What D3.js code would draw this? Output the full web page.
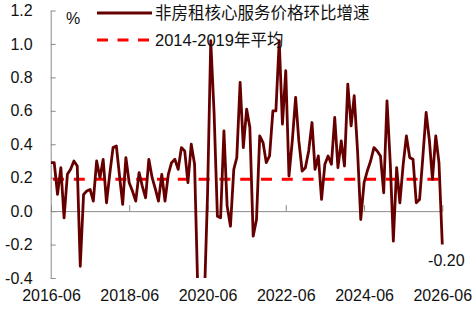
<!DOCTYPE html>
<html>
<head>
<meta charset="utf-8">
<script src="https://cdn.jsdelivr.net/npm/d3@7"></script>
<style>
  body { margin: 0; background: #fff; }
  svg { display: block; }
  text { font-family: "Liberation Sans", Arial, "Noto Sans CJK SC", sans-serif; fill: #111; }
</style>
</head>
<body>
<script>
// monthly series, 2016-06 .. 2026-06
var startMonth = new Date(2016, 5, 1);
var values = [
  0.29, 0.29, 0.10, 0.26, -0.04, 0.22, 0.25, 0.30, 0.27, -0.33,
  0.10, 0.12, 0.13, 0.06, 0.30, 0.20, 0.31, 0.05, 0.22, 0.38,
  0.39, 0.22, 0.04, 0.32, 0.17, 0.12, 0.06, 0.23, 0.15, 0.08,
  0.31, 0.20, 0.13, 0.06, 0.22, 0.06, 0.22, 0.29, 0.31, 0.25,
  0.38, 0.36, 0.17, 0.40, 0.28, -0.45, -0.90, -0.56, 0.10, 1.02,
  0.59, -0.03, -0.04, 0.48, 0.03, -0.09, 0.25, 0.32, 0.77, 0.38,
  0.61, 0.50, -0.15, -0.05, 0.45, 0.41, 0.29, 0.33, 0.60, 0.60,
  1.02, 0.52, 0.84, 0.21, 0.42, 0.68, 0.42, 0.24, 0.26, 0.36,
  0.53, 0.25, 0.33, 0.07, 0.28, 0.33, 0.28, 0.56, 0.26, 0.42,
  0.27, 0.76, 0.51, 0.69, 0.36, -0.05, 0.17, 0.24, 0.30, 0.38,
  0.36, 0.33, 0.11, 0.66, 0.28, -0.18, 0.26, 0.05, 0.28, 0.45,
  0.32, 0.31, 0.05, 0.07, 0.32, 0.59, 0.42, 0.19, 0.45, 0.29,
  -0.20
];
var avg2014_2019 = 0.19;
var seriesNames = ["非房租核心服务价格环比增速", "2014-2019年平均"];
var yTicks = [-0.4, -0.2, 0.0, 0.2, 0.4, 0.6, 0.8, 1.0, 1.2];
var xTickLabels = ["2016-06", "2018-06", "2020-06", "2022-06", "2024-06", "2026-06"];

var months = values.map(function(d, i) { return d3.timeMonth.offset(startMonth, i); });
var data = values.map(function(v, i) { return { date: months[i], value: v }; });
var parseMonth = d3.timeParse("%Y-%m");

var width = 472, height = 313;
var plot = { left: 51, right: 442.3, top: 10.5, bottom: 278 };

var svg = d3.select("body").append("svg")
  .attr("width", width)
  .attr("height", height);

var xScale = d3.scaleTime()
  .domain([months[0], months[months.length - 1]])
  .range([plot.left, plot.right]);

var yScale = d3.scaleLinear()
  .domain([-0.4, 1.2])
  .range([plot.bottom, plot.top]);

svg.append("clipPath").attr("id", "clip")
  .append("rect")
  .attr("x", plot.left - 2).attr("y", plot.top)
  .attr("width", plot.right - plot.left + 10)
  .attr("height", plot.bottom - plot.top);

// y axis
var yAxis = svg.append("g")
  .attr("transform", "translate(" + (plot.left - 0.3) + ",0)")
  .call(d3.axisLeft(yScale)
    .tickValues(yTicks)
    .tickFormat(function(d) { return d.toFixed(1); })
    .tickSizeInner(-5)
    .tickSizeOuter(0)
    .tickPadding(18));
yAxis.selectAll("text").style("font-size", "16px").attr("fill", "#111");

// x axis at zero
var xAxis = svg.append("g")
  .attr("transform", "translate(0," + yScale(0) + ")")
  .call(d3.axisBottom(xScale)
    .tickValues(xTickLabels.map(parseMonth))
    .tickFormat("")
    .tickSizeInner(-6)
    .tickSizeOuter(0));

svg.append("g")
  .attr("transform", "translate(0," + plot.bottom + ")")
  .call(d3.axisBottom(xScale)
    .tickValues(xTickLabels.map(parseMonth))
    .tickFormat(d3.timeFormat("%Y-%m"))
    .tickSize(0)
    .tickPadding(12))
  .call(function(g) { g.select(".domain").remove(); })
  .selectAll("text").style("font-size", "16px").attr("fill", "#111");

svg.selectAll(".domain, .tick line").attr("stroke", "#8a8a8a");

// average line
svg.append("line")
  .attr("x1", xScale(months[0])).attr("x2", xScale(months[months.length - 1]))
  .attr("y1", yScale(avg2014_2019)).attr("y2", yScale(avg2014_2019))
  .attr("stroke", "#ff0000")
  .attr("stroke-width", 3)
  .attr("stroke-dasharray", "11,9.8")
  .attr("stroke-dashoffset", -2);

// series line
svg.append("path")
  .datum(data)
  .attr("clip-path", "url(#clip)")
  .attr("d", d3.line()
    .x(function(d) { return xScale(d.date); })
    .y(function(d) { return yScale(d.value); }))
  .attr("stroke", "#660000")
  .attr("stroke-width", 2.8)
  .attr("stroke-linejoin", "round")
  .attr("fill", "none");

// last value label
var last = data[data.length - 1];
svg.append("text")
  .attr("x", xScale(last.date) + 4)
  .attr("y", yScale(last.value) + 21)
  .attr("text-anchor", "middle")
  .style("font-size", "16px")
  .text(last.value.toFixed(2));

// unit
svg.append("text")
  .attr("x", 66).attr("y", 24)
  .style("font-size", "16px")
  .text("%");

// legend
var legend = svg.append("g");
legend.append("line")
  .attr("x1", 97).attr("x2", 152).attr("y1", 13).attr("y2", 13)
  .attr("stroke", "#660000").attr("stroke-width", 3);
legend.append("line")
  .attr("x1", 97).attr("x2", 152).attr("y1", 40).attr("y2", 40)
  .attr("stroke", "#ff0000").attr("stroke-width", 3)
  .attr("stroke-dasharray", "11,9.5");
legend.selectAll("text.lg")
  .data(seriesNames)
  .enter().append("text")
  .attr("class", "lg")
  .attr("x", 155)
  .attr("y", function(d, i) { return 19 + i * 27; })
  .style("font-size", "16.5px")
  .text(function(d) { return d; });
</script>
</body>
</html>
